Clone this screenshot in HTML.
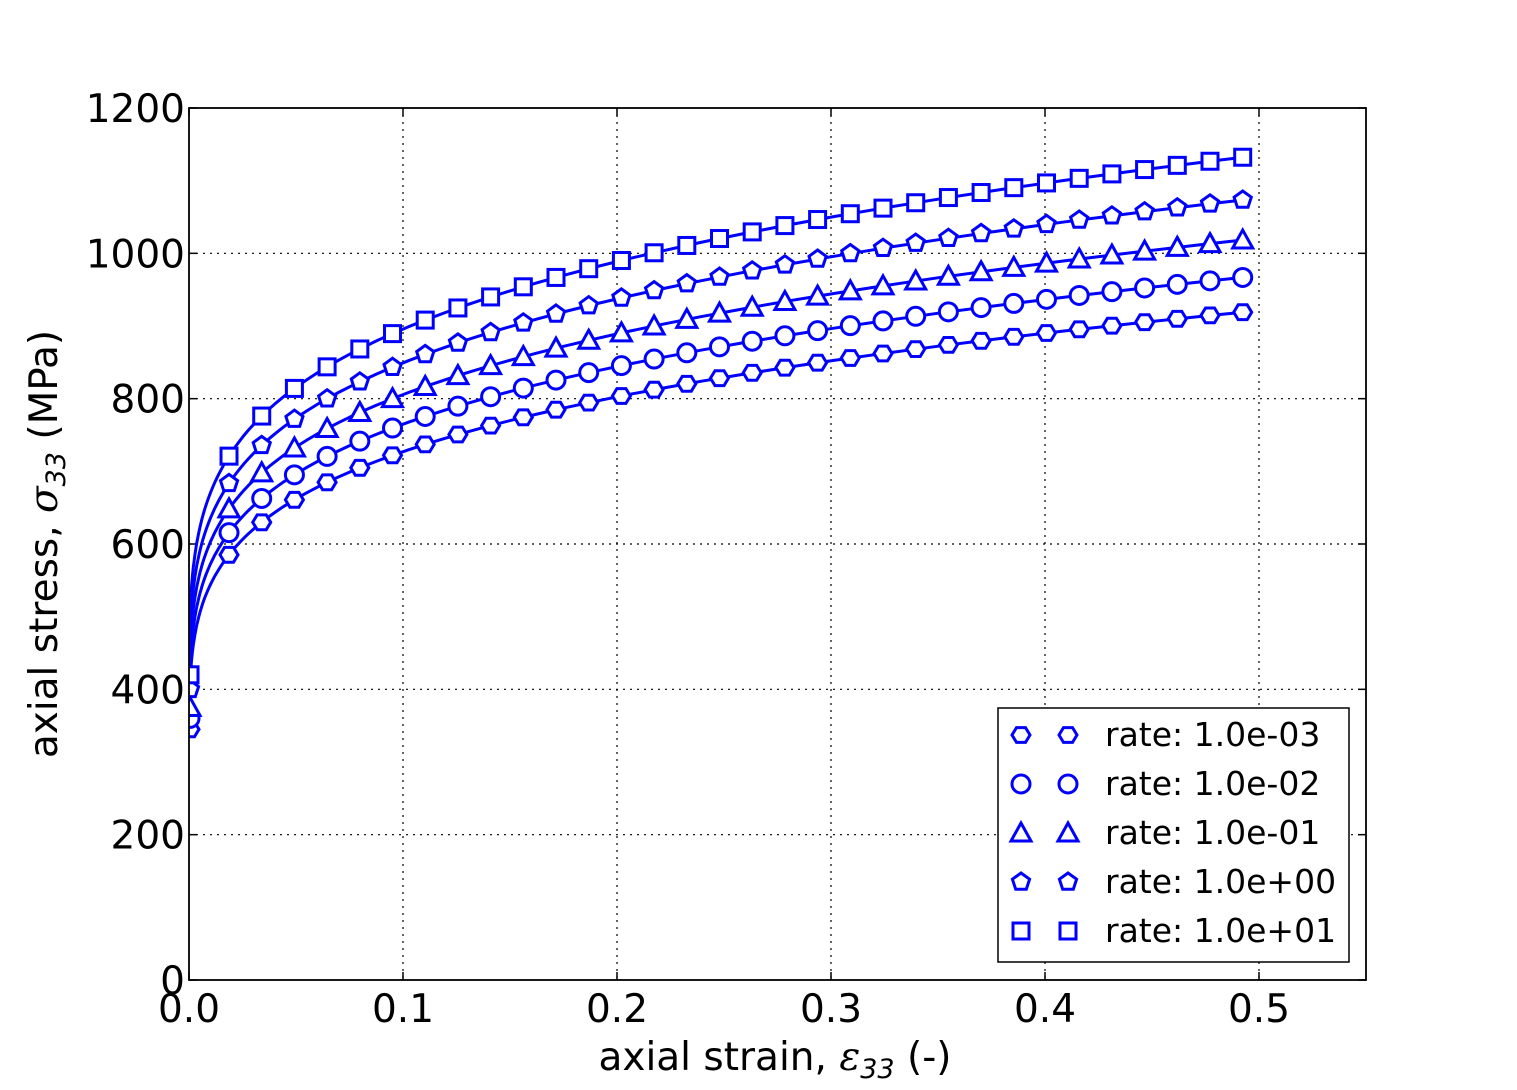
<!DOCTYPE html>
<html><head><meta charset="utf-8"><style>
html,body{margin:0;padding:0;background:#fff;}
svg{display:block;font-family:"DejaVu Sans","Liberation Sans",sans-serif;}
</style></head><body>
<svg id="s" width="1517" height="1090" xmlns="http://www.w3.org/2000/svg"></svg>
<script>
const s=document.getElementById('s');
const X=e=>189+e*2140, Y=v=>980-v*0.72667;
let h='';
h+='<rect x="0" y="0" width="1517" height="1090" fill="#fff"/>';
for(let i=1;i<=5;i++){const x=X(i*0.1);h+=`<line x1="${x}" y1="108" x2="${x}" y2="980" stroke="#000" stroke-width="1.2" stroke-dasharray="2,5"/>`;}
for(let v=200;v<=1000;v+=200){const y=Y(v);h+=`<line x1="189" y1="${y}" x2="1366" y2="${y}" stroke="#000" stroke-width="1.2" stroke-dasharray="2,5"/>`;}
for(let i=0;i<=5;i++){const x=X(i*0.1);h+=`<line x1="${x}" y1="980" x2="${x}" y2="972" stroke="#000" stroke-width="1.5"/><line x1="${x}" y1="108" x2="${x}" y2="116" stroke="#000" stroke-width="1.5"/><text x="${x}" y="1022" font-size="39" text-anchor="middle">${(i/10).toFixed(1)}</text>`;}
for(let v=0;v<=1200;v+=200){const y=Y(v);h+=`<line x1="189" y1="${y}" x2="197" y2="${y}" stroke="#000" stroke-width="1.5"/><line x1="1366" y1="${y}" x2="1358" y2="${y}" stroke="#000" stroke-width="1.5"/><text x="185" y="${y+14}" font-size="39" text-anchor="end">${v}</text>`;}
h+=`<text x="775" y="1070" font-size="39" text-anchor="middle">axial strain, <tspan font-family="DejaVu Serif,serif" font-style="italic">ε</tspan><tspan font-size="27" dy="8" font-style="italic">33</tspan><tspan dy="-8"> (-)</tspan></text>`;
h+=`<text transform="translate(57,544) rotate(-90)" font-size="39" text-anchor="middle">axial stress, <tspan font-family="DejaVu Serif,serif" font-style="italic">σ</tspan><tspan font-size="27" dy="8" font-style="italic">33</tspan><tspan dy="-8"> (MPa)</tspan></text>`;
function mk(t,x,y){const st='fill="#fff" stroke="#0000ff" stroke-width="3"';const r=9;
 if(t==0){let p=[];for(let k=0;k<6;k++){const a=k*Math.PI/3;p.push((x+r*Math.cos(a)).toFixed(1)+','+(y+r*0.95*Math.sin(a)).toFixed(1));}return `<polygon points="${p.join(' ')}" ${st}/>`;}
 if(t==1)return `<circle cx="${x}" cy="${y}" r="${r}" ${st}/>`;
 if(t==2)return `<polygon points="${x},${y-r-1} ${x+r+1},${y+r-1} ${x-r-1},${y+r-1}" ${st}/>`;
 if(t==3){let p=[];for(let k=0;k<5;k++){const a=-Math.PI/2+k*2*Math.PI/5;p.push((x+r*Math.cos(a)).toFixed(1)+','+(y+r*Math.sin(a)).toFixed(1));}return `<polygon points="${p.join(' ')}" ${st}/>`;}
 return `<rect x="${x-r+1}" y="${y-r+1}" width="${2*r-2}" height="${2*r-2}" ${st}/>`;}
const sc=[1,1.052,1.108,1.168,1.232], st0=[345,360,375,400,420];
const f=(e,k)=>(260+768*Math.pow(e,0.216))*sc[k];
h+='<clipPath id="c"><rect x="189" y="108" width="1177" height="872"/></clipPath><g clip-path="url(#c)">';
for(let k=0;k<5;k++){
 let d=`M${X(0)},${Y(st0[k]+50)}`;
 for(let e=0.00002;e<=0.4925;e*=1.08){d+=` L${X(e).toFixed(1)},${Y(f(e,k)).toFixed(1)}`;}
 d+=` L${X(0.4925).toFixed(1)},${Y(f(0.4925,k)).toFixed(1)}`;
 h+=`<path d="${d}" fill="none" stroke="#0000ff" stroke-width="3"/>`;
}
for(let k=0;k<5;k++){
 h+=mk(k,X(0)+1,Y(st0[k]));
 for(let i=0;i<32;i++){const e=0.0187+0.01528*i;h+=mk(k,X(e),Y(f(e,k)));}
}
h+='</g>';
h+='<rect x="189" y="108" width="1177" height="872" fill="none" stroke="#000" stroke-width="1.8"/>';
h+='<rect x="998" y="708" width="351" height="254" fill="#fff" stroke="#000" stroke-width="1.5"/>';
const lab=['rate: 1.0e-03','rate: 1.0e-02','rate: 1.0e-01','rate: 1.0e+00','rate: 1.0e+01'];
for(let k=0;k<5;k++){const y=735+49*k;h+=mk(k,1021,y)+mk(k,1068,y)+`<text x="1105" y="${y+11}" font-size="33">${lab[k]}</text>`;}
s.innerHTML=h;
</script>
</body></html>
